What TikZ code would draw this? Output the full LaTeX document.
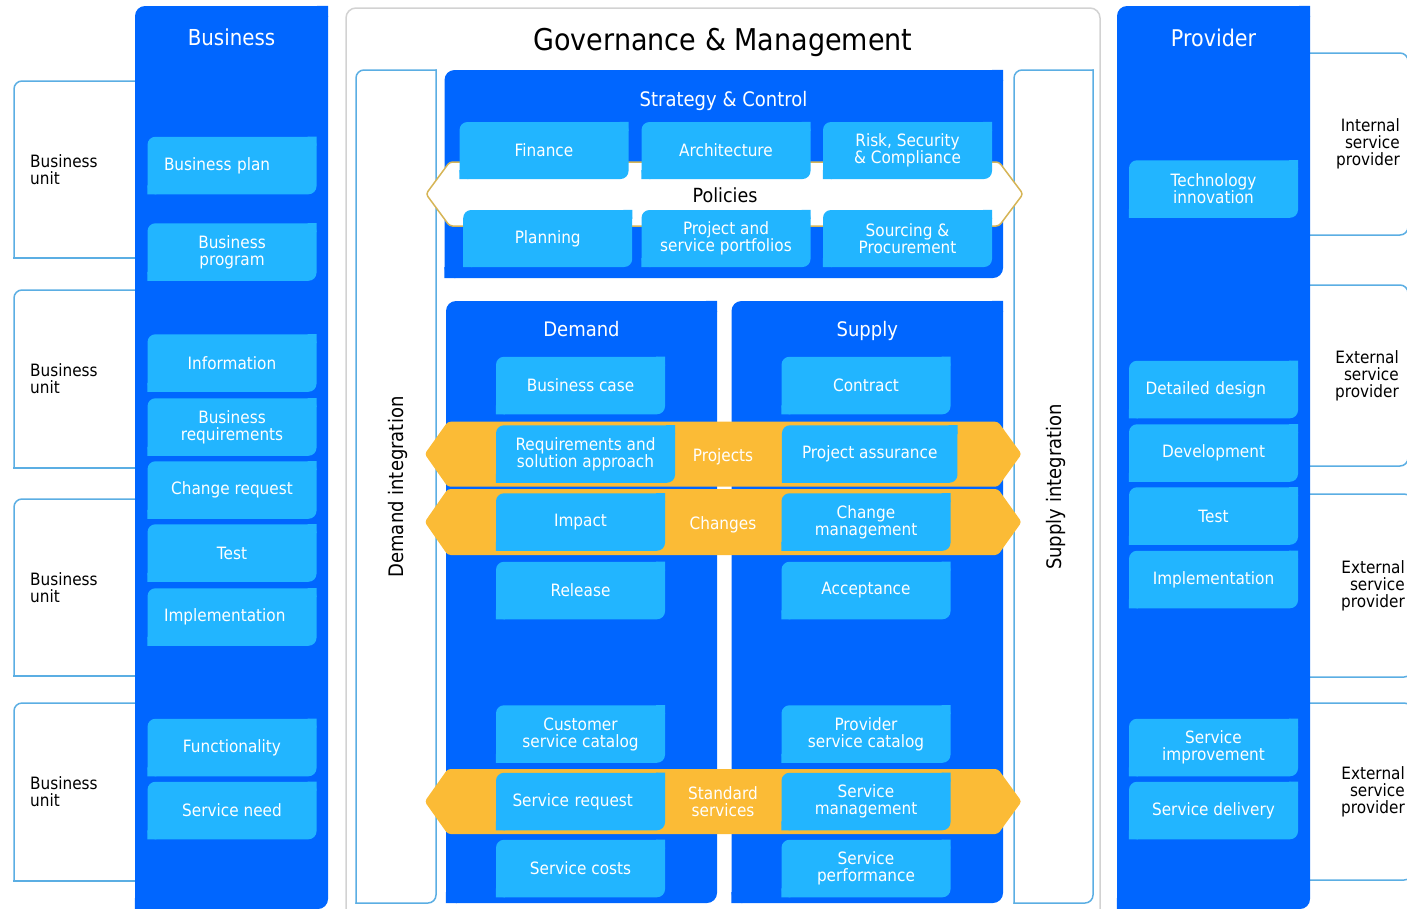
\documentclass[tikz,border=0pt]{standalone}
\usepackage{fontspec}
\setmainfont{DejaVu Sans}[FakeStretch=0.9]
\usepackage{tikz}
\usetikzlibrary{positioning}

\definecolor{darkblue}{RGB}{0,102,255}
\definecolor{lightblue}{RGB}{34,181,255}
\definecolor{bandorange}{RGB}{251,187,54}
\definecolor{lineblue}{RGB}{91,174,227}
\definecolor{policygold}{RGB}{214,181,86}
\definecolor{framegrey}{RGB}{210,210,210}

\newcommand{\boxfont}{\fontsize{17}{17}\selectfont}
\newcommand{\headfont}{\fontsize{20}{22}\selectfont}
\newcommand{\sidefont}{\fontsize{17}{17}\selectfont}

\tikzset{
  box/.style={fill=lightblue, text=white, rounded corners=8pt, minimum width=169pt, minimum height=57.5pt,
    inner sep=0pt, align=center, font=\boxfont,
    append after command={\pgfextra{\fill[lightblue, sharp corners] (\tikzlastnode.north east) rectangle ++(-9,9)
      (\tikzlastnode.south west) rectangle ++(9,-9);}}},
  panel/.style={fill=darkblue, rounded corners=10pt, inner sep=0pt,
    append after command={\pgfextra{\fill[darkblue, sharp corners] (\tikzlastnode.north east) rectangle ++(-11,11)
      (\tikzlastnode.south west) rectangle ++(11,-11);}}},
  lft/.style={text width=136pt, align=left},
  head/.style={text=white, font=\headfont},
  outline/.style={draw=lineblue, line width=1.5pt, line cap=rect},
  band/.style={fill=bandorange, rounded corners=3pt},
  bandtext/.style={text=white, font=\sidefont, align=center},
  sidetext/.style={text=black, font=\sidefont, inner sep=0pt}
}

\begin{document}
\begin{tikzpicture}[x=1pt,y=-1pt]
\useasboundingbox (0,0) rectangle (1407,908);

% governance frame
\draw[framegrey, line width=1.5pt, rounded corners=10pt] (346,8) rectangle (1100,930);
\node[font=\fontsize{30}{30}\selectfont] (gov) at (723,42) {Governance \& Management};

% business units and providers
\draw[outline, rounded corners=8pt] (135,81) -- (14,81) -- (14,258);
\draw[outline] (14,258) -- (135,258);
\draw[outline, rounded corners=8pt] (135,290) -- (14,290) -- (14,468);
\draw[outline] (14,468) -- (135,468);
\draw[outline, rounded corners=8pt] (135,499) -- (14,499) -- (14,676);
\draw[outline] (14,676) -- (135,676);
\draw[outline, rounded corners=8pt] (135,703) -- (14,703) -- (14,881);
\draw[outline] (14,881) -- (135,881);
\draw[outline, rounded corners=8pt] (1310,53) -- (1408,53) -- (1408,235) -- (1310,235);
\draw[outline, rounded corners=8pt] (1310,285) -- (1408,285) -- (1408,466) -- (1310,466);
\draw[outline, rounded corners=8pt] (1310,494) -- (1412,494) -- (1412,677) -- (1310,677);
\draw[outline, rounded corners=8pt] (1310,703) -- (1412,703) -- (1412,880) -- (1310,880);
\node[sidetext, anchor=west, align=left] (bu1) at (30,169.5) {Business\\unit};
\node[sidetext, anchor=west, align=left] (bu2) at (30,379) {Business\\unit};
\node[sidetext, anchor=west, align=left] (bu3) at (30,587.5) {Business\\unit};
\node[sidetext, anchor=west, align=left] (bu4) at (30,791.5) {Business\\unit};
\node[sidetext, anchor=east, align=right] (sp1) at (1400,144) {Internal\\service\\provider};
\node[sidetext, anchor=east, align=right] (sp2) at (1399,375.5) {External\\service\\provider};
\node[sidetext, anchor=east, align=right] (sp3) at (1405,585.5) {External\\service\\provider};
\node[sidetext, anchor=east, align=right] (sp4) at (1405,791.5) {External\\service\\provider};

% integration columns
\draw[outline, rounded corners=8pt] (436,70) -- (356,70) -- (356,903);
\draw[outline, rounded corners=8pt] (356,903) -- (436,903) -- (436,70);
\draw[outline, rounded corners=8pt] (1093,70) -- (1014,70) -- (1014,903);
\draw[outline, rounded corners=8pt] (1014,903) -- (1093,903) -- (1093,70);
\node[sidetext, rotate=90, font=\fontsize{20}{20}\selectfont] (demint) at (398,487) {Demand integration};
\node[sidetext, rotate=90, font=\fontsize{20}{20}\selectfont] (supint) at (1056,487) {Supply integration};

% business column
\node[panel, minimum width=193pt, minimum height=903pt] (bizpanel) at (231.5,457.5) {};
\node[head, font=\fontsize{22}{22}\selectfont] (bizhead) at (231.5,37) {Business};
\node[box, lft] (bplan) at (232,165.5) {Business plan};
\node[box] (bprog) at (232,252) {Business\\program};
\node[box] (binfo) at (232,363) {Information};
\node[box] (breq) at (232,427) {Business\\requirements};
\node[box] (bchange) at (232,490) {Change request};
\node[box] (btest) at (232,553) {Test};
\node[box, lft] (bimpl) at (232,617) {Implementation};
\node[box] (bfunc) at (232,747.5) {Functionality};
\node[box] (bneed) at (232,810.5) {Service need};

% provider column
\node[panel, minimum width=193pt, minimum height=903pt] (provpanel) at (1213.5,457.5) {};
\node[head, font=\fontsize{23}{23}\selectfont] (provhead) at (1213.5,38) {Provider};
\node[box] (ptech) at (1213.5,189) {Technology\\innovation};
\node[box, lft] (pdesign) at (1213.5,389.5) {Detailed design};
\node[box] (pdev) at (1213.5,453) {Development};
\node[box] (ptest) at (1213.5,516) {Test};
\node[box] (pimpl) at (1213.5,579.5) {Implementation};
\node[box] (pimprove) at (1213.5,747.5) {Service\\improvement};
\node[box] (pdeliver) at (1213.5,810.5) {Service delivery};

% strategy and control
\node[panel, minimum width=558.5pt, minimum height=208pt] (stratpanel) at (723.75,174) {};
\node[head] (strathead) at (723.5,101) {Strategy \& Control};
\draw[fill=white, draw=policygold, line width=1.5pt, rounded corners=3pt]
  (426,194) -- (449.6,162) -- (999,162) -- (1023,194) -- (999,226) -- (449.6,226) -- cycle;
\node[font=\fontsize{19.5}{20}\selectfont] (policies) at (725,195) {Policies};
\node[box, minimum height=57pt] (finance) at (544,150.5) {Finance};
\node[box, minimum height=57pt] (archi) at (726,150.5) {Architecture};
\node[box, minimum height=57pt] (risk) at (907.5,150.5) {Risk, Security\\\& Compliance};
\node[box, minimum height=57pt] (planning) at (547.7,238.5) {Planning};
\node[box, minimum height=57pt] (portf) at (726,238.5) {Project and\\service portfolios};
\node[box, minimum height=57pt] (sourcing) at (907.5,238.5) {Sourcing \&\\Procurement};

% demand and supply
\node[panel, minimum width=271pt, minimum height=602pt] (dempanel) at (581.5,602) {};
\node[panel, minimum width=271.5pt, minimum height=602pt] (suppanel) at (867.25,602) {};
\node[head] (demhead) at (581.5,329) {Demand};
\node[head] (suphead) at (867.25,331) {Supply};
\node[box] (bcase) at (580.5,385.5) {Business case};
\node[box] (contract) at (866,385.5) {Contract};
\node[box] (release) at (580.5,590.5) {Release};
\node[box] (accept) at (866,590.5) {Acceptance};
\node[box] (custcat) at (580.5,734) {Customer\\service catalog};
\node[box] (provcat) at (866,734) {Provider\\service catalog};
\node[box] (scosts) at (580.5,868.5) {Service costs};
\node[box] (sperf) at (866,868.5) {Service\\performance};

% bands across demand and supply
\fill[band] (424.7,454) -- (447.7,421.7) -- (998,421.7) -- (1021.6,454) -- (998,486.7) -- (447.7,486.7) -- cycle;
\fill[band] (424.7,522) -- (447.7,489) -- (998,489) -- (1021.6,522) -- (998,555) -- (447.7,555) -- cycle;
\fill[band] (424.7,801.5) -- (447.7,769) -- (998,769) -- (1021.6,801.5) -- (998,834) -- (447.7,834) -- cycle;
\node[bandtext] (projects) at (723,457) {Projects};
\node[bandtext] (changes) at (723,525) {Changes};
\node[bandtext] (standard) at (723,801.5) {Standard\\services};
\node[box, minimum width=179pt] (reqs) at (585.5,454) {Requirements and\\solution approach};
\node[box, minimum width=175.5pt] (passur) at (869.7,454) {Project assurance};
\node[box] (impact) at (580.5,522) {Impact};
\node[box] (chmgmt) at (866,522) {Change\\management};
\node[box, lft] (sreq) at (580.5,801.5) {Service request};
\node[box] (smgmt) at (866,801.5) {Service\\management};
\end{tikzpicture}
\end{document}
